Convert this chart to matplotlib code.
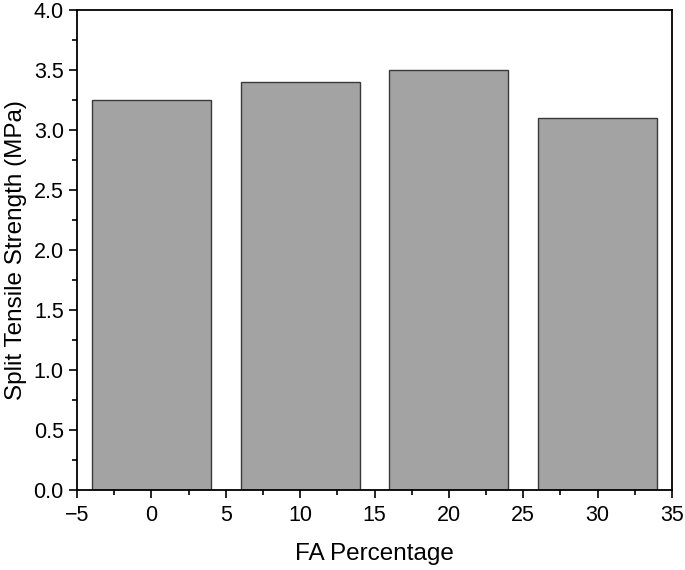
import matplotlib
matplotlib.use('Agg')
import matplotlib.pyplot as plt
from matplotlib.ticker import MultipleLocator, FormatStrFormatter

# Data
fa_pct = [0, 10, 20, 30]
split_strength = [3.25, 3.4, 3.5, 3.1]

plt.rcParams['font.family'] = ['Liberation Sans', 'DejaVu Sans']

fig = plt.figure(figsize=(6.85, 5.7), dpi=100)
ax = fig.add_axes([77 / 685, 80 / 570, 595 / 685, 480 / 570])

ax.bar(fa_pct, split_strength, width=8, color='#a3a3a3',
       edgecolor='#3a3a3a', linewidth=1.0)

ax.set_xlim(-5, 35)
ax.set_ylim(0, 4.0)
ax.xaxis.set_major_locator(MultipleLocator(5))
ax.xaxis.set_minor_locator(MultipleLocator(2.5))
ax.yaxis.set_major_locator(MultipleLocator(0.5))
ax.yaxis.set_minor_locator(MultipleLocator(0.25))
ax.yaxis.set_major_formatter(FormatStrFormatter('%.1f'))

ax.tick_params(which='major', direction='out', length=6, width=1.2,
               labelsize=15.5, top=False, right=False)
ax.tick_params(axis='x', which='major', pad=5)
ax.tick_params(which='minor', direction='out', length=3.5, width=1.2,
               top=False, right=False)
for s in ax.spines.values():
    s.set_linewidth(1.3)

ax.set_xlabel('FA Percentage', fontsize=17.5, labelpad=12)
ax.set_ylabel('Split Tensile Strength (MPa)', fontsize=17.5, labelpad=5)

fig.savefig('out.png', dpi=100)
